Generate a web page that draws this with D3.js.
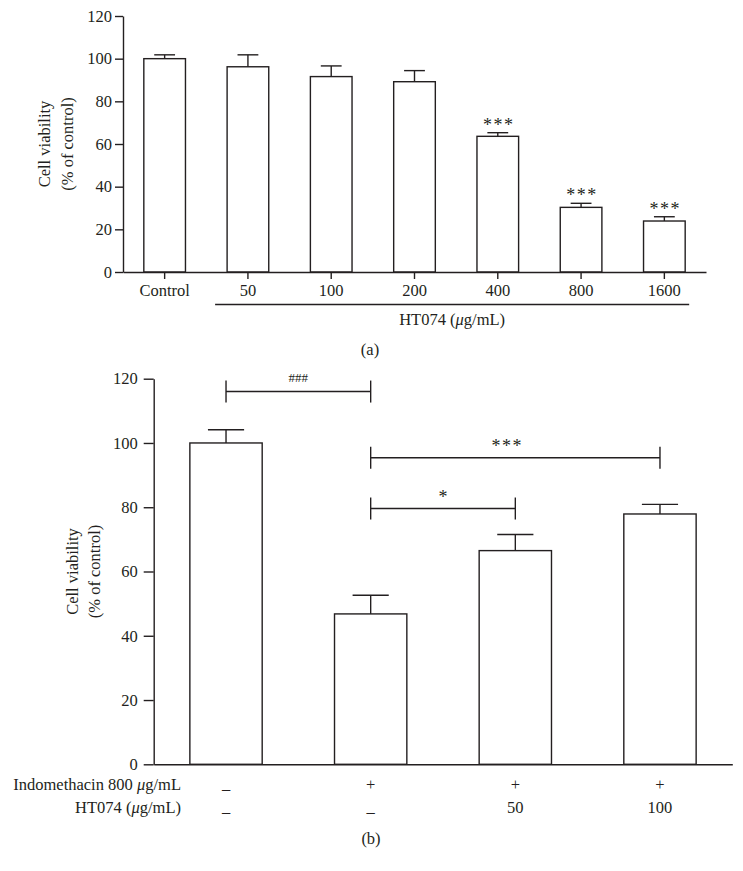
<!DOCTYPE html>
<html>
<head>
<meta charset="utf-8">
<script src="https://cdn.jsdelivr.net/npm/d3@7"></script>
<style>
  body { margin: 0; background: #fff; }
  text { font-family: "Liberation Serif", "Times New Roman", serif; fill: #231f20; }
</style>
</head>
<body>
<svg id="chart" width="743" height="871"></svg>
<script>
// panel (a): HT074 dose response
const doseLabels = ['Control', '50', '100', '200', '400', '800', '1600'];
const doseMeans = [100, 96.2, 91.6, 89.2, 63.6, 30.3, 23.9];
const doseErrors = [1.8, 5.6, 5.0, 5.2, 1.7, 1.9, 2.0];
const doseStars = ['', '', '', '', '***', '***', '***'];
const yTicksA = [0, 20, 40, 60, 80, 100, 120];

// panel (b): indomethacin + HT074
const groupIds = ['g1', 'g2', 'g3', 'g4'];
const indoRow = ['–', '+', '+', '+'];
const htRow = ['–', '–', '50', '100'];
const groupMeans = [100, 46.8, 66.5, 77.9];
const groupErrors = [4.1, 5.8, 5.0, 3.0];
const yTicksB = [0, 20, 40, 60, 80, 100, 120];
const bracketFrom = [0, 1, 1];
const bracketTo = [1, 3, 2];
const bracketY = [116, 95.4, 79.6];
const bracketLabel = ['###', '***', '*'];

const ink = '#231f20';
const fs = 16.5;
const svg = d3.select('#chart');

function styleAxis(g, size) {
  g.attr('font-size', size).attr('font-family', null);
  g.selectAll('path, line').attr('stroke', ink).attr('stroke-width', 1.4);
}

function drawBars(g, ids, means, errs, x, y) {
  const bw = x.bandwidth();
  g.selectAll('rect.bar').data(ids).enter().append('rect')
    .attr('class', 'bar')
    .attr('x', d => x(d))
    .attr('y', (d, i) => y(means[i]))
    .attr('width', bw)
    .attr('height', (d, i) => y(0) - y(means[i]))
    .attr('fill', '#fff')
    .attr('stroke', ink)
    .attr('stroke-width', 1.4);
  // error bars (upper only)
  g.selectAll('line.err').data(ids).enter().append('line')
    .attr('class', 'err')
    .attr('x1', d => x(d) + bw / 2).attr('x2', d => x(d) + bw / 2)
    .attr('y1', (d, i) => y(means[i]))
    .attr('y2', (d, i) => y(means[i] + errs[i]))
    .attr('stroke', ink).attr('stroke-width', 1.4);
  g.selectAll('line.cap').data(ids).enter().append('line')
    .attr('class', 'cap')
    .attr('x1', d => x(d) + bw / 4).attr('x2', d => x(d) + bw * 3 / 4)
    .attr('y1', (d, i) => y(means[i] + errs[i]))
    .attr('y2', (d, i) => y(means[i] + errs[i]))
    .attr('stroke', ink).attr('stroke-width', 1.4);
}

// ---------- panel (a) ----------
const xA = d3.scaleBand().domain(doseLabels).range([123, 706]).paddingInner(0.5).paddingOuter(0.25);
const yA = d3.scaleLinear().domain([0, 120]).range([272, 16]);
const gA = svg.append('g');

drawBars(gA, doseLabels, doseMeans, doseErrors, xA, yA);

gA.append('g').attr('transform', 'translate(123,0)')
  .call(d3.axisLeft(yA).tickValues(yTicksA).tickSize(8).tickPadding(3).tickSizeOuter(0))
  .call(g => styleAxis(g, fs));

gA.append('g').attr('transform', 'translate(0,272)')
  .call(d3.axisBottom(xA).tickSize(7).tickPadding(5).tickSizeOuter(0))
  .call(g => styleAxis(g, fs));

gA.selectAll('text.star').data(doseLabels).enter().append('text')
  .attr('class', 'star')
  .attr('x', d => xA(d) + xA.bandwidth() / 2 + 1)
  .attr('y', (d, i) => yA(doseMeans[i] + doseErrors[i]) - 2)
  .attr('text-anchor', 'middle')
  .attr('font-size', 18)
  .attr('letter-spacing', 1.5)
  .text((d, i) => doseStars[i]);

// HT074 group line
const lineX1 = xA('50') - 12;
const lineX2 = xA('1600') + xA.bandwidth() + 4;
gA.append('line')
  .attr('x1', lineX1).attr('x2', lineX2)
  .attr('y1', 304.5).attr('y2', 304.5)
  .attr('stroke', ink).attr('stroke-width', 1.4);
gA.append('text')
  .attr('x', (lineX1 + lineX2) / 2).attr('y', 325)
  .attr('text-anchor', 'middle').attr('font-size', fs)
  .html('HT074 (<tspan font-style="italic">μ</tspan>g/mL)');

gA.append('text')
  .attr('transform', 'translate(50,144) rotate(-90)')
  .attr('text-anchor', 'middle').attr('font-size', fs)
  .call(t => {
    t.append('tspan').attr('x', 0).attr('dy', 0).text('Cell viability');
    t.append('tspan').attr('x', 0).attr('dy', 23).text('(% of control)');
  });

svg.append('text').attr('x', 370).attr('y', 355)
  .attr('text-anchor', 'middle').attr('font-size', fs).text('(a)');

// ---------- panel (b) ----------
const xB = d3.scaleBand().domain(groupIds).range([153.7, 732.3]).paddingInner(0.5).paddingOuter(0.25);
const yB = d3.scaleLinear().domain([0, 120]).range([764.3, 378.7]);
const gB = svg.append('g');

drawBars(gB, groupIds, groupMeans, groupErrors, xB, yB);

gB.append('g').attr('transform', 'translate(153.7,0)')
  .call(d3.axisLeft(yB).tickValues(yTicksB).tickSize(10).tickPadding(6).tickSizeOuter(0))
  .call(g => styleAxis(g, fs));

gB.append('g').attr('transform', 'translate(0,764.3)')
  .call(d3.axisBottom(xB).tickSize(0).tickSizeOuter(0).tickFormat(() => ''))
  .call(g => styleAxis(g, fs));

// significance brackets
const cB = d => xB(groupIds[d]) + xB.bandwidth() / 2;
bracketFrom.forEach((f, i) => {
  const x1 = cB(f), x2 = cB(bracketTo[i]), yy = yB(bracketY[i]);
  const bg = gB.append('g').attr('stroke', ink).attr('stroke-width', 1.4);
  bg.append('line').attr('x1', x1).attr('x2', x2).attr('y1', yy).attr('y2', yy);
  bg.append('line').attr('x1', x1).attr('x2', x1).attr('y1', yy - 11).attr('y2', yy + 11);
  bg.append('line').attr('x1', x2).attr('x2', x2).attr('y1', yy - 11).attr('y2', yy + 11);
  const isHash = bracketLabel[i] === '###';
  gB.append('text')
    .attr('x', (x1 + x2) / 2 + (bracketLabel[i] === '***' ? -8 : 0))
    .attr('y', isHash ? yy - 10 : yy - 6)
    .attr('text-anchor', 'middle')
    .attr('font-size', isHash ? 13 : 18)
    .attr('letter-spacing', bracketLabel[i] === '***' ? 1.5 : 0)
    .text(bracketLabel[i]);
});

// treatment rows
const rowX = 181;
gB.append('text').attr('x', rowX).attr('y', 790).attr('text-anchor', 'end').attr('font-size', fs)
  .html('Indomethacin 800 <tspan font-style="italic">μ</tspan>g/mL');
gB.append('text').attr('x', rowX).attr('y', 813).attr('text-anchor', 'end').attr('font-size', fs)
  .html('HT074 (<tspan font-style="italic">μ</tspan>g/mL)');

[[indoRow, 790], [htRow, 813]].forEach(([row, yy]) => {
  gB.selectAll(null).data(groupIds).enter().append('text')
    .attr('x', d => xB(d) + xB.bandwidth() / 2)
    .attr('y', (d, i) => row[i] === '–' ? yy + 4 : yy)
    .attr('text-anchor', 'middle').attr('font-size', fs)
    .text((d, i) => row[i]);
});

gB.append('text')
  .attr('transform', 'translate(78,571.5) rotate(-90)')
  .attr('text-anchor', 'middle').attr('font-size', fs)
  .call(t => {
    t.append('tspan').attr('x', 0).attr('dy', 0).text('Cell viability');
    t.append('tspan').attr('x', 0).attr('dy', 22).text('(% of control)');
  });

svg.append('text').attr('x', 371).attr('y', 844)
  .attr('text-anchor', 'middle').attr('font-size', fs).text('(b)');
</script>
</body>
</html>
